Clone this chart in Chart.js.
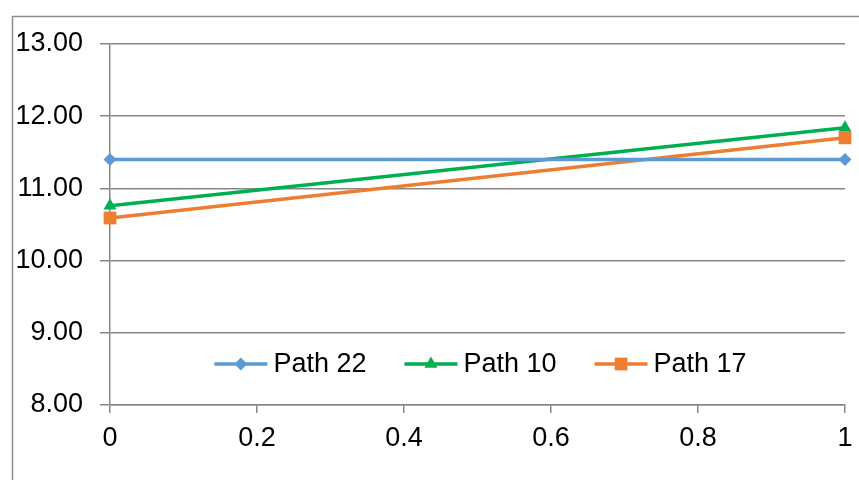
<!DOCTYPE html>
<html>
<head>
<meta charset="utf-8">
<script src="https://cdn.jsdelivr.net/npm/chart.js@4.4.0/dist/chart.umd.min.js"></script>
<style>
  html, body { margin: 0; padding: 0; background: #ffffff; }
  #wrap { position: relative; width: 859px; height: 480px; }
</style>
</head>
<body>
<div id="wrap"><canvas id="c" width="859" height="480"></canvas></div>
<script>
const xValues = [0, 1];
const seriesNames = ["Path 22", "Path 10", "Path 17"];
const path22 = [11.40, 11.40];
const path10 = [10.76, 11.84];
const path17 = [10.59, 11.70];
const yTickMin = 8;
const yTickMax = 13;
const yTickStep = 1;
const xTickStep = 0.2;

const FONT = "'Liberation Sans', Arial, sans-serif";
const FS = 27;
const GRID = '#878787';

function pts(vals) { return xValues.map((x, i) => ({ x: x, y: vals[i] })); }

const borderPlugin = {
  id: 'outerBorder',
  beforeDraw(chart) {
    const ctx = chart.ctx;
    ctx.save();
    ctx.strokeStyle = '#8e8e8e';
    ctx.lineWidth = 1.5;
    ctx.beginPath();
    ctx.moveTo(12.5, 490);
    ctx.lineTo(12.5, 16.5);
    ctx.lineTo(870, 16.5);
    ctx.stroke();
    ctx.restore();
  }
};

const legendPlugin = {
  id: 'innerLegend',
  afterDraw(chart) {
    const c = chart.ctx;
    const ds = chart.data.datasets;
    const area = chart.chartArea;
    c.save();
    c.font = FS + 'px ' + FONT;
    const lineW = 53, gap = 6, spacing = 38;
    const items = ds.map(d => ({ d, w: lineW + gap + c.measureText(d.label).width }));
    const total = items.reduce((s, it) => s + it.w, 0) + spacing * (items.length - 1);
    let x = (area.left + area.right) / 2 - total / 2 + 3;
    const y = area.bottom - 41;
    items.forEach(it => {
      const d = it.d;
      c.strokeStyle = d.borderColor;
      c.lineWidth = 3.5;
      c.beginPath();
      c.moveTo(x, y);
      c.lineTo(x + lineW, y);
      c.stroke();
      c.fillStyle = d.backgroundColor;
      c.strokeStyle = d.borderColor;
      c.lineWidth = 0.01;
      Chart.helpers.drawPoint(c, { pointStyle: d.pointStyle, radius: d.pointRadius, borderWidth: 0, rotation: 0 }, x + lineW / 2, y);
      c.fillStyle = '#000000';
      c.textBaseline = 'middle';
      c.textAlign = 'left';
      c.fillText(d.label, x + lineW + gap, y + 1);
      x += it.w + spacing;
    });
    c.restore();
  }
};

const ctx = document.getElementById('c').getContext('2d');
const colors = ['#5B9BD5', '#00B050', '#ED7D31'];
const styles = ['rectRot', 'triangle', 'rect'];
const radii = [6.5, 7.5, 9];
const values = [path22, path10, path17];

new Chart(ctx, {
  type: 'line',
  data: {
    datasets: seriesNames.map((name, i) => ({
      label: name,
      data: pts(values[i]),
      borderColor: colors[i],
      backgroundColor: colors[i],
      pointBackgroundColor: colors[i],
      pointBorderColor: colors[i],
      pointBorderWidth: 0,
      borderWidth: 3.5,
      pointStyle: styles[i],
      pointRadius: radii[i],
      pointHoverRadius: radii[i],
      tension: 0,
      clip: false
    }))
  },
  options: {
    responsive: false,
    animation: false,
    events: [],
    layout: { padding: { top: 44, right: 14, bottom: 0, left: 0 } },
    plugins: {
      legend: { display: false },
      tooltip: { enabled: false },
      title: { display: false }
    },
    scales: {
      x: {
        type: 'linear',
        min: xValues[0],
        max: xValues[xValues.length - 1],
        afterFit(s) { s.height = 75; s.paddingRight = 0; s.paddingLeft = 0; },
        ticks: {
          stepSize: xTickStep,
          color: '#000000',
          font: { family: FONT, size: FS },
          padding: 9,
          maxRotation: 0,
          callback: v => String(Number(Number(v).toFixed(1)))
        },
        grid: {
          drawOnChartArea: false,
          drawTicks: true,
          tickLength: 8,
          color: GRID,
          lineWidth: 1.5
        },
        border: { display: true, color: GRID, width: 1.5 }
      },
      y: {
        min: yTickMin,
        max: yTickMax,
        afterFit(s) { s.width = 110; s.paddingTop = 0; s.paddingBottom = 0; },
        ticks: {
          stepSize: yTickStep,
          color: '#000000',
          font: { family: FONT, size: FS },
          padding: 17,
          callback: v => Number(v).toFixed(2)
        },
        grid: {
          drawTicks: true,
          tickLength: 10,
          color: GRID,
          lineWidth: 1.5
        },
        border: { display: true, color: GRID, width: 1.5 }
      }
    }
  },
  plugins: [borderPlugin, legendPlugin]
});
</script>
</body>
</html>
